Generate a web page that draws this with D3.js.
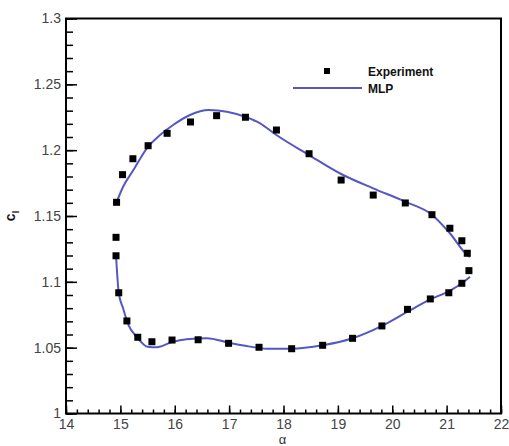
<!DOCTYPE html>
<meta charset="utf-8">
<style>
body { margin: 0; background: #fff; }
svg { display: block; font-family: "Liberation Sans", Arial, sans-serif; }
.tick text { font-size: 14px; fill: #444; }
.axis path { display: none; }
.axis line { stroke: #000; stroke-width: 1.5px; }
.frame { fill: none; stroke: #000; stroke-width: 2px; }
.mlp { fill: none; stroke: #5656c4; stroke-width: 2px; }
.legend text { font-size: 12px; font-weight: bold; fill: #111; }
</style>
<body>
<svg width="509" height="446"></svg>
<script src="https://d3js.org/d3.v7.min.js"></script>
<script>

// experiment points (alpha, cl), going round the loop
var expAlpha = [14.93, 15.04, 15.23, 15.51, 15.86, 16.29, 16.77, 17.30, 17.87, 18.47, 19.06, 19.65,
                20.24, 20.73, 21.06, 21.28, 21.38, 21.41, 21.28, 21.04, 20.70, 20.28, 19.81, 19.27,
                18.72, 18.15, 17.55, 16.99, 16.43, 15.95, 15.58, 15.32, 15.12, 14.97, 14.92, 14.92];
var expCl = [1.1604, 1.1814, 1.1935, 1.2034, 1.2128, 1.2214, 1.2262, 1.2250, 1.2153, 1.1973, 1.1773, 1.1659,
             1.1599, 1.1510, 1.1407, 1.1312, 1.1217, 1.1085, 1.0989, 1.0917, 1.0870, 1.0791, 1.0665, 1.0571,
             1.0518, 1.0492, 1.0503, 1.0533, 1.0560, 1.0558, 1.0545, 1.0579, 1.0703, 1.0917, 1.1198, 1.1338];

// MLP prediction, upper branch
var upAlpha = [14.93, 15.05, 15.24, 15.51, 15.73, 15.97, 16.28, 16.62, 16.96, 17.32, 17.57, 17.87,
               18.47, 19.06, 19.65, 20.24, 20.73, 21.06, 21.38, 21.43];
var upCl = [1.1604, 1.1722, 1.1849, 1.2026, 1.2115, 1.2191, 1.2267, 1.2305, 1.2292, 1.2250, 1.2204, 1.2115,
            1.1963, 1.1819, 1.1710, 1.1609, 1.1510, 1.1369, 1.1204, 1.1189];

// MLP prediction, lower branch
var lowAlpha = [14.92, 14.97, 15.05, 15.15, 15.30, 15.50, 15.67, 15.95, 16.22, 16.59, 16.99, 17.32,
                17.69, 18.14, 18.72, 19.27, 19.81, 20.28, 20.70, 21.04, 21.28, 21.43];
var lowCl = [1.1198, 1.0917, 1.0799, 1.0672, 1.0583, 1.0507, 1.0503, 1.0543, 1.0564, 1.0571, 1.0538, 1.0513,
             1.0492, 1.0492, 1.0518, 1.0571, 1.0665, 1.0773, 1.0867, 1.0928, 1.0989, 1.1039];

var xTicks = [14, 15, 16, 17, 18, 19, 20, 21, 22];
var yTicks = [1, 1.05, 1.1, 1.15, 1.2, 1.25, 1.3];

var margin = {left: 66, top: 18.5},
    width = 435,
    height = 395;

var svg = d3.select("svg");
var g = svg.append("g").attr("transform", "translate(" + margin.left + "," + margin.top + ")");

var x = d3.scaleLinear().domain([14, 22]).range([0, width]);
var y = d3.scaleLinear().domain([1, 1.3]).range([height, 0]);

// minor ticks first, inward
g.append("g").attr("class", "axis")
    .attr("transform", "translate(0," + height + ")")
    .call(d3.axisBottom(x).tickValues(d3.range(14, 22.001, 0.2)).tickSizeInner(-4).tickSizeOuter(0).tickFormat(""));
g.append("g").attr("class", "axis")
    .call(d3.axisLeft(y).tickValues(d3.range(1, 1.3001, 0.01)).tickSizeInner(-7).tickSizeOuter(0).tickFormat(""));

// major ticks with labels
g.append("g").attr("class", "axis")
    .attr("transform", "translate(0," + height + ")")
    .call(d3.axisBottom(x).tickValues(xTicks).tickSizeInner(-8).tickSizeOuter(0).tickPadding(6).tickFormat(d3.format("d")))
    .selectAll("text").attr("y", 6).attr("dy", "0.71em");
g.append("g").attr("class", "axis")
    .call(d3.axisLeft(y).tickValues(yTicks).tickSizeInner(-11).tickSizeOuter(0).tickPadding(0).tickFormat(function(d) { return String(+d.toFixed(2)); }))
    .selectAll("text").attr("x", -5);

g.append("rect").attr("class", "frame").attr("width", width).attr("height", height);

// axis titles
svg.append("text")
    .attr("x", margin.left + x(18) - 1).attr("y", 444)
    .attr("text-anchor", "middle")
    .style("font-size", "13px").style("fill", "#333")
    .text("α");

var yt = svg.append("text")
    .attr("transform", "translate(15," + (margin.top + y(1.15)) + ") rotate(-90)")
    .attr("text-anchor", "middle")
    .style("font-size", "14px").style("font-weight", "bold").style("fill", "#111");
yt.append("tspan").text("c");
yt.append("tspan").attr("dy", 4).style("font-size", "9px").text("l");

// MLP curves
var line = d3.line()
    .x(function(d) { return x(d[0]); })
    .y(function(d) { return y(d[1]); })
    .curve(d3.curveMonotoneX);

g.append("path").attr("class", "mlp").attr("d", line(d3.zip(upAlpha, upCl)));
g.append("path").attr("class", "mlp").attr("d", line(d3.zip(lowAlpha, lowCl)));

// experiment markers
var s = 7;
g.selectAll(".exp")
    .data(d3.zip(expAlpha, expCl))
  .enter().append("rect")
    .attr("class", "exp")
    .attr("x", function(d) { return x(d[0]) - s / 2; })
    .attr("y", function(d) { return y(d[1]) - s / 2; })
    .attr("width", s).attr("height", s)
    .attr("fill", "#000");

// legend
var lg = svg.append("g").attr("class", "legend");
lg.append("rect").attr("x", 324).attr("y", 68).attr("width", 6).attr("height", 6).attr("fill", "#000");
lg.append("text").attr("x", 368).attr("y", 75.5).text("Experiment");
lg.append("line").attr("x1", 293).attr("x2", 362).attr("y1", 88).attr("y2", 88)
    .attr("stroke", "#5656c4").attr("stroke-width", 2);
lg.append("text").attr("x", 368).attr("y", 92.5).text("MLP");

</script>
